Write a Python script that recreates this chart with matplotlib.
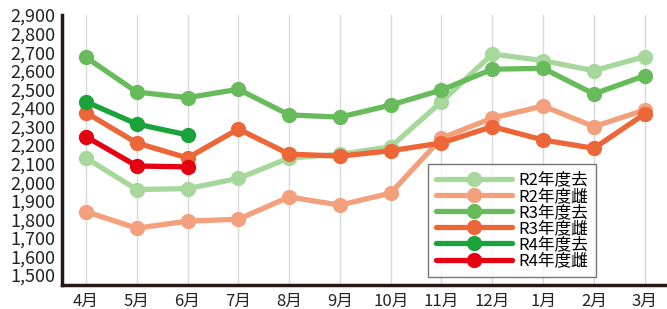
import matplotlib
matplotlib.use('Agg')
import matplotlib.pyplot as plt

plt.rcParams['font.family'] = ['Noto Sans CJK JP', 'DejaVu Sans']

months = ['4月', '5月', '6月', '7月', '8月', '9月', '10月', '11月', '12月', '1月', '2月', '3月']

r2_kyo = [2130, 1960, 1965, 2020, 2130, 2150, 2190, 2433, 2690, 2654, 2600, 2676]
r2_mesu = [1841, 1752, 1790, 1800, 1920, 1876, 1941, 2237, 2345, 2410, 2299, 2388]
r3_kyo = [2672, 2485, 2455, 2500, 2362, 2350, 2415, 2496, 2608, 2613, 2475, 2573]
r3_mesu = [2374, 2211, 2130, 2286, 2151, 2140, 2169, 2211, 2299, 2227, 2182, 2367]
r4_kyo = [2433, 2313, 2254]
r4_mesu = [2245, 2087, 2082]

series = [
    ('R2年度去', r2_kyo, '#a6d89c'),
    ('R2年度雌', r2_mesu, '#f3a07c'),
    ('R3年度去', r3_kyo, '#67bb5b'),
    ('R3年度雌', r3_mesu, '#ec6637'),
    ('R4年度去', r4_kyo, '#1aa33b'),
    ('R4年度雌', r4_mesu, '#e50012'),
]

fig = plt.figure(figsize=(6.67, 3.09), dpi=100)
ax = fig.add_axes([62/667, 24/309, 605/667, 270/309])

x = list(range(len(months)))
for name, vals, col in series:
    ax.plot(x[:len(vals)], vals, color=col, lw=3.8, marker='o', ms=10,
            label=name, solid_capstyle='round')

ax.set_xlim(-0.472, 11.44)
ax.set_ylim(1446, 2900)
ax.set_xticks(x)
ax.set_xticklabels(months, fontsize=12, color='#222222')
yt = list(range(1500, 2901, 100))
ax.set_yticks(yt)
ax.set_yticklabels([f'{v:,}' for v in yt], fontsize=13, color='#222222')
ax.tick_params(axis='y', length=0, pad=5)
ax.tick_params(axis='x', length=0, pad=6)

ax.grid(axis='x', color='#d9d9d9', lw=1)
ax.set_axisbelow(True)
for s in ['top', 'right']:
    ax.spines[s].set_visible(False)
for s in ['left', 'bottom']:
    ax.spines[s].set_linewidth(2.5)
    ax.spines[s].set_color('#231815')

leg = ax.legend(loc='lower left', bbox_to_anchor=(428/667, 32/309),
                bbox_transform=fig.transFigure, borderaxespad=0,
                fontsize=12, frameon=True, fancybox=False,
                handlelength=4.6, labelspacing=-0.05, borderpad=0.45,
                handletextpad=0.4)
leg.get_frame().set_edgecolor('#555555')
leg.get_frame().set_linewidth(1)

fig.savefig('out.png', dpi=100)
